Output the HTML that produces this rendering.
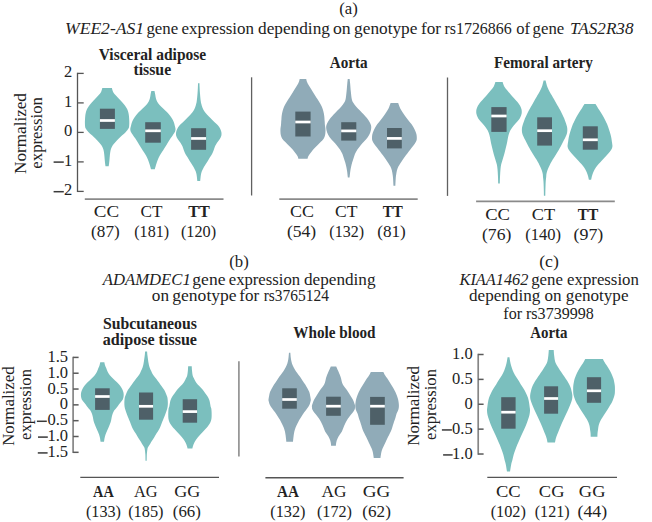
<!DOCTYPE html>
<html><head><meta charset="utf-8"><style>
html,body{margin:0;padding:0;background:#fff;}
svg{display:block;}
text{font-family:"Liberation Serif",serif;fill:#222222;}
</style></head><body>
<svg width="652" height="522" viewBox="0 0 652 522">
<rect width="652" height="522" fill="#fff"/>
<path d="M102.30 88.00 L111.90 88.00 C112.10 88.65 112.47 90.68 113.10 91.90 C113.73 93.12 114.72 94.15 115.70 95.30 C116.67 96.45 117.87 97.65 118.95 98.80 C120.03 99.95 121.17 101.05 122.20 102.20 C123.22 103.35 124.27 104.55 125.10 105.70 C125.92 106.85 126.61 107.95 127.15 109.10 C127.69 110.25 128.05 111.45 128.35 112.60 C128.65 113.75 128.81 114.85 128.95 116.00 C129.09 117.15 129.14 118.33 129.20 119.50 C129.26 120.67 129.32 121.85 129.30 123.00 C129.28 124.15 129.24 125.50 129.10 126.40 C128.96 127.30 128.99 127.48 128.45 128.40 C127.91 129.32 126.89 130.75 125.85 131.90 C124.81 133.05 123.42 134.15 122.20 135.30 C120.98 136.45 119.70 137.65 118.55 138.80 C117.40 139.95 116.32 141.05 115.30 142.20 C114.28 143.35 113.17 144.55 112.45 145.70 C111.72 146.85 111.32 147.95 110.95 149.10 C110.57 150.25 110.39 151.45 110.20 152.60 C110.01 153.75 109.92 154.85 109.80 156.00 C109.68 157.15 109.61 158.35 109.50 159.50 C109.39 160.65 109.28 161.78 109.15 162.90 C109.02 164.02 108.77 165.65 108.70 166.20 L105.50 166.20 C105.42 165.65 105.18 164.02 105.05 162.90 C104.92 161.78 104.81 160.65 104.70 159.50 C104.59 158.35 104.52 157.15 104.40 156.00 C104.28 154.85 104.19 153.75 104.00 152.60 C103.81 151.45 103.62 150.25 103.25 149.10 C102.88 147.95 102.47 146.85 101.75 145.70 C101.03 144.55 99.92 143.35 98.90 142.20 C97.88 141.05 96.80 139.95 95.65 138.80 C94.50 137.65 93.22 136.45 92.00 135.30 C90.78 134.15 89.39 133.05 88.35 131.90 C87.31 130.75 86.29 129.32 85.75 128.40 C85.21 127.48 85.24 127.30 85.10 126.40 C84.96 125.50 84.92 124.15 84.90 123.00 C84.88 121.85 84.94 120.67 85.00 119.50 C85.06 118.33 85.11 117.15 85.25 116.00 C85.39 114.85 85.55 113.75 85.85 112.60 C86.15 111.45 86.51 110.25 87.05 109.10 C87.59 107.95 88.27 106.85 89.10 105.70 C89.92 104.55 90.97 103.35 92.00 102.20 C93.03 101.05 94.17 99.95 95.25 98.80 C96.33 97.65 97.53 96.45 98.50 95.30 C99.47 94.15 100.47 93.12 101.10 91.90 C101.73 90.68 102.10 88.65 102.30 88.00 Z" fill="#7bbfbe"/>
<path d="M151.30 91.00 L154.50 91.00 C154.63 91.65 155.07 93.68 155.30 94.90 C155.53 96.12 155.58 97.15 155.90 98.30 C156.22 99.45 156.55 100.65 157.20 101.80 C157.85 102.95 158.76 104.05 159.80 105.20 C160.84 106.35 162.27 107.55 163.45 108.70 C164.63 109.85 165.83 110.95 166.90 112.10 C167.97 113.25 169.00 114.45 169.90 115.60 C170.80 116.75 171.62 117.85 172.30 119.00 C172.98 120.15 173.53 121.35 173.95 122.50 C174.38 123.65 174.59 124.87 174.85 125.90 C175.11 126.93 175.46 127.78 175.50 128.70 C175.54 129.62 175.52 130.37 175.10 131.40 C174.68 132.43 173.70 133.75 172.95 134.90 C172.20 136.05 171.36 137.15 170.60 138.30 C169.84 139.45 169.12 140.65 168.40 141.80 C167.68 142.95 167.02 144.05 166.30 145.20 C165.58 146.35 164.82 147.55 164.10 148.70 C163.38 149.85 162.72 150.95 162.00 152.10 C161.28 153.25 160.45 154.45 159.80 155.60 C159.15 156.75 158.60 157.85 158.10 159.00 C157.60 160.15 157.20 161.35 156.80 162.50 C156.40 163.65 156.03 164.78 155.70 165.90 C155.37 167.02 154.95 168.65 154.80 169.20 L151.00 169.20 C150.85 168.65 150.43 167.02 150.10 165.90 C149.77 164.78 149.40 163.65 149.00 162.50 C148.60 161.35 148.20 160.15 147.70 159.00 C147.20 157.85 146.65 156.75 146.00 155.60 C145.35 154.45 144.52 153.25 143.80 152.10 C143.08 150.95 142.42 149.85 141.70 148.70 C140.98 147.55 140.22 146.35 139.50 145.20 C138.78 144.05 138.12 142.95 137.40 141.80 C136.68 140.65 135.96 139.45 135.20 138.30 C134.44 137.15 133.60 136.05 132.85 134.90 C132.10 133.75 131.12 132.43 130.70 131.40 C130.28 130.37 130.26 129.62 130.30 128.70 C130.34 127.78 130.69 126.93 130.95 125.90 C131.21 124.87 131.43 123.65 131.85 122.50 C132.27 121.35 132.82 120.15 133.50 119.00 C134.18 117.85 135.00 116.75 135.90 115.60 C136.80 114.45 137.83 113.25 138.90 112.10 C139.97 110.95 141.17 109.85 142.35 108.70 C143.53 107.55 144.96 106.35 146.00 105.20 C147.04 104.05 147.95 102.95 148.60 101.80 C149.25 100.65 149.58 99.45 149.90 98.30 C150.22 97.15 150.27 96.12 150.50 94.90 C150.73 93.68 151.17 91.65 151.30 91.00 Z" fill="#7bbfbe"/>
<path d="M198.00 83.30 L199.50 83.30 C199.52 83.90 199.52 85.15 199.60 86.90 C199.68 88.65 199.82 91.50 200.00 93.80 C200.18 96.10 200.47 98.98 200.70 100.70 C200.92 102.42 201.07 102.95 201.35 104.10 C201.63 105.25 201.93 106.45 202.40 107.60 C202.87 108.75 203.39 109.85 204.15 111.00 C204.91 112.15 205.91 113.35 206.95 114.50 C207.99 115.65 209.25 116.75 210.40 117.90 C211.55 119.05 212.57 120.15 213.85 121.40 C215.12 122.65 216.98 124.15 218.05 125.40 C219.12 126.65 219.74 127.75 220.30 128.90 C220.86 130.05 221.23 131.15 221.40 132.30 C221.57 133.45 221.64 134.65 221.35 135.80 C221.06 136.95 220.37 138.05 219.65 139.20 C218.93 140.35 217.80 141.55 217.05 142.70 C216.30 143.85 215.70 144.88 215.15 146.10 C214.60 147.32 214.18 148.85 213.75 150.00 C213.32 151.15 213.07 151.95 212.55 153.00 C212.03 154.05 211.30 155.22 210.65 156.30 C210.00 157.38 209.32 158.42 208.65 159.50 C207.98 160.58 207.30 161.75 206.65 162.80 C206.00 163.85 205.32 164.87 204.75 165.80 C204.18 166.73 203.70 167.45 203.20 168.40 C202.70 169.35 202.12 170.48 201.75 171.50 C201.38 172.52 201.15 173.48 200.95 174.50 C200.75 175.52 200.68 176.50 200.55 177.60 C200.43 178.70 200.26 180.52 200.20 181.10 L197.30 181.10 C197.24 180.52 197.07 178.70 196.95 177.60 C196.82 176.50 196.75 175.52 196.55 174.50 C196.35 173.48 196.12 172.52 195.75 171.50 C195.38 170.48 194.80 169.35 194.30 168.40 C193.80 167.45 193.32 166.73 192.75 165.80 C192.18 164.87 191.50 163.85 190.85 162.80 C190.20 161.75 189.52 160.58 188.85 159.50 C188.18 158.42 187.50 157.38 186.85 156.30 C186.20 155.22 185.47 154.05 184.95 153.00 C184.43 151.95 184.18 151.15 183.75 150.00 C183.32 148.85 182.90 147.32 182.35 146.10 C181.80 144.88 181.20 143.85 180.45 142.70 C179.70 141.55 178.57 140.35 177.85 139.20 C177.13 138.05 176.44 136.95 176.15 135.80 C175.86 134.65 175.93 133.45 176.10 132.30 C176.27 131.15 176.64 130.05 177.20 128.90 C177.76 127.75 178.38 126.65 179.45 125.40 C180.52 124.15 182.38 122.65 183.65 121.40 C184.93 120.15 185.95 119.05 187.10 117.90 C188.25 116.75 189.51 115.65 190.55 114.50 C191.59 113.35 192.59 112.15 193.35 111.00 C194.11 109.85 194.63 108.75 195.10 107.60 C195.57 106.45 195.87 105.25 196.15 104.10 C196.43 102.95 196.58 102.42 196.80 100.70 C197.03 98.98 197.32 96.10 197.50 93.80 C197.68 91.50 197.82 88.65 197.90 86.90 C197.98 85.15 197.98 83.90 198.00 83.30 Z" fill="#7bbfbe"/>
<path d="M299.70 78.90 L306.20 78.90 C306.34 79.40 306.62 80.83 307.05 81.90 C307.48 82.97 308.10 84.15 308.75 85.30 C309.40 86.45 310.23 87.65 310.95 88.80 C311.67 89.95 312.33 91.05 313.05 92.20 C313.77 93.35 314.52 94.55 315.25 95.70 C315.98 96.85 316.68 97.95 317.40 99.10 C318.12 100.25 318.87 101.45 319.55 102.60 C320.23 103.75 320.95 104.85 321.50 106.00 C322.05 107.15 322.47 108.35 322.85 109.50 C323.22 110.65 323.51 111.75 323.75 112.90 C323.99 114.05 324.18 115.32 324.30 116.40 C324.43 117.48 324.43 118.57 324.50 119.40 C324.57 120.23 324.63 120.48 324.70 121.40 C324.77 122.32 324.78 123.75 324.90 124.90 C325.02 126.05 325.31 127.15 325.40 128.30 C325.49 129.45 325.51 130.65 325.45 131.80 C325.39 132.95 325.35 134.05 325.05 135.20 C324.75 136.35 324.39 137.55 323.65 138.70 C322.91 139.85 321.67 140.95 320.60 142.10 C319.52 143.25 318.35 144.45 317.20 145.60 C316.05 146.75 314.74 147.85 313.70 149.00 C312.66 150.15 311.82 151.35 310.95 152.50 C310.07 153.65 309.02 154.87 308.45 155.90 C307.88 156.93 307.70 158.23 307.55 158.70 L298.35 158.70 C298.20 158.23 298.02 156.93 297.45 155.90 C296.88 154.87 295.82 153.65 294.95 152.50 C294.07 151.35 293.24 150.15 292.20 149.00 C291.16 147.85 289.85 146.75 288.70 145.60 C287.55 144.45 286.38 143.25 285.30 142.10 C284.23 140.95 282.99 139.85 282.25 138.70 C281.51 137.55 281.15 136.35 280.85 135.20 C280.55 134.05 280.51 132.95 280.45 131.80 C280.39 130.65 280.41 129.45 280.50 128.30 C280.59 127.15 280.88 126.05 281.00 124.90 C281.12 123.75 281.13 122.32 281.20 121.40 C281.27 120.48 281.33 120.23 281.40 119.40 C281.47 118.57 281.47 117.48 281.60 116.40 C281.72 115.32 281.91 114.05 282.15 112.90 C282.39 111.75 282.68 110.65 283.05 109.50 C283.43 108.35 283.85 107.15 284.40 106.00 C284.95 104.85 285.67 103.75 286.35 102.60 C287.03 101.45 287.78 100.25 288.50 99.10 C289.22 97.95 289.92 96.85 290.65 95.70 C291.38 94.55 292.13 93.35 292.85 92.20 C293.57 91.05 294.23 89.95 294.95 88.80 C295.67 87.65 296.50 86.45 297.15 85.30 C297.80 84.15 298.42 82.97 298.85 81.90 C299.27 80.83 299.56 79.40 299.70 78.90 Z" fill="#90abb8"/>
<path d="M347.75 78.90 L349.65 78.90 C349.73 79.70 349.96 81.63 350.15 83.70 C350.34 85.77 350.53 88.75 350.80 91.30 C351.07 93.85 351.33 97.08 351.75 99.00 C352.17 100.92 352.55 101.52 353.30 102.80 C354.05 104.08 355.14 105.42 356.25 106.70 C357.36 107.98 358.73 109.23 359.95 110.50 C361.17 111.77 362.39 113.03 363.55 114.30 C364.71 115.57 365.90 116.82 366.90 118.10 C367.90 119.38 368.87 120.80 369.55 122.00 C370.23 123.20 370.73 124.25 371.00 125.30 C371.27 126.35 371.32 127.08 371.20 128.30 C371.07 129.52 370.80 131.17 370.25 132.60 C369.70 134.03 368.90 135.47 367.90 136.90 C366.90 138.33 365.48 139.78 364.25 141.20 C363.02 142.62 361.67 143.98 360.50 145.40 C359.33 146.82 358.18 148.27 357.25 149.70 C356.32 151.13 355.57 152.57 354.95 154.00 C354.33 155.43 354.02 156.87 353.55 158.30 C353.08 159.73 352.57 161.17 352.15 162.60 C351.73 164.03 351.36 165.47 351.05 166.90 C350.74 168.33 350.55 169.42 350.30 171.20 C350.05 172.98 349.68 176.53 349.55 177.60 L347.85 177.60 C347.72 176.53 347.35 172.98 347.10 171.20 C346.85 169.42 346.66 168.33 346.35 166.90 C346.04 165.47 345.67 164.03 345.25 162.60 C344.83 161.17 344.32 159.73 343.85 158.30 C343.38 156.87 343.07 155.43 342.45 154.00 C341.83 152.57 341.07 151.13 340.15 149.70 C339.22 148.27 338.07 146.82 336.90 145.40 C335.73 143.98 334.38 142.62 333.15 141.20 C331.92 139.78 330.50 138.33 329.50 136.90 C328.50 135.47 327.70 134.03 327.15 132.60 C326.60 131.17 326.32 129.52 326.20 128.30 C326.07 127.08 326.12 126.35 326.40 125.30 C326.67 124.25 327.17 123.20 327.85 122.00 C328.53 120.80 329.50 119.38 330.50 118.10 C331.50 116.82 332.69 115.57 333.85 114.30 C335.01 113.03 336.23 111.77 337.45 110.50 C338.67 109.23 340.04 107.98 341.15 106.70 C342.26 105.42 343.35 104.08 344.10 102.80 C344.85 101.52 345.23 100.92 345.65 99.00 C346.07 97.08 346.33 93.85 346.60 91.30 C346.87 88.75 347.06 85.77 347.25 83.70 C347.44 81.63 347.67 79.70 347.75 78.90 Z" fill="#90abb8"/>
<path d="M390.60 103.00 L398.20 103.00 C398.43 103.65 399.08 105.68 399.60 106.90 C400.12 108.12 400.64 109.15 401.30 110.30 C401.96 111.45 402.77 112.65 403.55 113.80 C404.33 114.95 405.14 116.05 406.00 117.20 C406.86 118.35 407.80 119.55 408.70 120.70 C409.60 121.85 410.58 122.95 411.40 124.10 C412.22 125.25 412.95 126.45 413.60 127.60 C414.25 128.75 414.82 129.85 415.30 131.00 C415.78 132.15 416.25 133.35 416.50 134.50 C416.75 135.65 416.80 136.90 416.80 137.90 C416.80 138.90 416.84 139.52 416.50 140.50 C416.16 141.48 415.56 142.60 414.75 143.80 C413.94 145.00 412.65 146.42 411.65 147.70 C410.65 148.98 409.71 150.23 408.75 151.50 C407.79 152.77 406.85 154.02 405.90 155.30 C404.95 156.58 403.94 157.92 403.05 159.20 C402.16 160.48 401.35 161.73 400.55 163.00 C399.75 164.27 398.87 165.52 398.25 166.80 C397.63 168.08 397.19 169.42 396.85 170.70 C396.51 171.98 396.38 173.23 396.20 174.50 C396.02 175.77 395.89 176.42 395.75 178.30 C395.61 180.18 395.42 184.55 395.35 185.80 L393.45 185.80 C393.38 184.55 393.19 180.18 393.05 178.30 C392.91 176.42 392.78 175.77 392.60 174.50 C392.42 173.23 392.29 171.98 391.95 170.70 C391.61 169.42 391.17 168.08 390.55 166.80 C389.93 165.52 389.05 164.27 388.25 163.00 C387.45 161.73 386.64 160.48 385.75 159.20 C384.86 157.92 383.85 156.58 382.90 155.30 C381.95 154.02 381.01 152.77 380.05 151.50 C379.09 150.23 378.15 148.98 377.15 147.70 C376.15 146.42 374.86 145.00 374.05 143.80 C373.24 142.60 372.64 141.48 372.30 140.50 C371.96 139.52 372.00 138.90 372.00 137.90 C372.00 136.90 372.05 135.65 372.30 134.50 C372.55 133.35 373.02 132.15 373.50 131.00 C373.98 129.85 374.55 128.75 375.20 127.60 C375.85 126.45 376.58 125.25 377.40 124.10 C378.22 122.95 379.20 121.85 380.10 120.70 C381.00 119.55 381.94 118.35 382.80 117.20 C383.66 116.05 384.47 114.95 385.25 113.80 C386.03 112.65 386.84 111.45 387.50 110.30 C388.16 109.15 388.68 108.12 389.20 106.90 C389.72 105.68 390.37 103.65 390.60 103.00 Z" fill="#90abb8"/>
<path d="M495.40 82.00 L502.60 82.00 C502.88 82.75 503.49 85.12 504.25 86.50 C505.01 87.88 506.11 89.02 507.15 90.30 C508.19 91.58 509.38 92.92 510.50 94.20 C511.62 95.48 512.73 96.73 513.85 98.00 C514.98 99.27 516.21 100.52 517.25 101.80 C518.29 103.08 519.38 104.42 520.10 105.70 C520.82 106.98 521.29 108.22 521.55 109.50 C521.81 110.78 521.85 112.12 521.65 113.40 C521.45 114.68 520.86 116.10 520.35 117.20 C519.84 118.30 519.41 118.97 518.60 120.00 C517.79 121.03 516.50 122.25 515.50 123.40 C514.50 124.55 513.45 125.75 512.60 126.90 C511.75 128.05 511.01 129.15 510.40 130.30 C509.79 131.45 509.34 132.65 508.95 133.80 C508.56 134.95 508.31 136.05 508.05 137.20 C507.79 138.35 507.62 139.55 507.40 140.70 C507.18 141.85 507.00 142.95 506.75 144.10 C506.50 145.25 506.18 146.45 505.90 147.60 C505.62 148.75 505.34 149.85 505.05 151.00 C504.76 152.15 504.47 153.35 504.15 154.50 C503.82 155.65 503.45 156.75 503.10 157.90 C502.75 159.05 502.38 160.32 502.05 161.40 C501.73 162.48 501.41 163.13 501.15 164.40 C500.89 165.67 500.68 167.08 500.50 169.00 C500.32 170.92 500.17 173.47 500.05 175.90 C499.93 178.33 499.84 182.32 499.80 183.60 L498.20 183.60 C498.16 182.32 498.07 178.33 497.95 175.90 C497.83 173.47 497.68 170.92 497.50 169.00 C497.32 167.08 497.11 165.67 496.85 164.40 C496.59 163.13 496.27 162.48 495.95 161.40 C495.62 160.32 495.25 159.05 494.90 157.90 C494.55 156.75 494.18 155.65 493.85 154.50 C493.53 153.35 493.24 152.15 492.95 151.00 C492.66 149.85 492.38 148.75 492.10 147.60 C491.82 146.45 491.50 145.25 491.25 144.10 C491.00 142.95 490.82 141.85 490.60 140.70 C490.38 139.55 490.21 138.35 489.95 137.20 C489.69 136.05 489.44 134.95 489.05 133.80 C488.66 132.65 488.21 131.45 487.60 130.30 C486.99 129.15 486.25 128.05 485.40 126.90 C484.55 125.75 483.50 124.55 482.50 123.40 C481.50 122.25 480.21 121.03 479.40 120.00 C478.59 118.97 478.16 118.30 477.65 117.20 C477.14 116.10 476.55 114.68 476.35 113.40 C476.15 112.12 476.19 110.78 476.45 109.50 C476.71 108.22 477.18 106.98 477.90 105.70 C478.62 104.42 479.71 103.08 480.75 101.80 C481.79 100.52 483.02 99.27 484.15 98.00 C485.27 96.73 486.38 95.48 487.50 94.20 C488.62 92.92 489.81 91.58 490.85 90.30 C491.89 89.02 492.99 87.88 493.75 86.50 C494.51 85.12 495.12 82.75 495.40 82.00 Z" fill="#7bbfbe"/>
<path d="M543.60 80.40 L545.60 80.40 C545.73 80.95 546.07 82.50 546.40 83.70 C546.73 84.90 547.08 86.32 547.60 87.60 C548.12 88.88 548.81 90.13 549.50 91.40 C550.19 92.67 551.02 93.92 551.75 95.20 C552.48 96.48 553.17 97.82 553.90 99.10 C554.62 100.38 555.37 101.63 556.10 102.90 C556.83 104.17 557.58 105.42 558.30 106.70 C559.02 107.98 559.73 109.32 560.40 110.60 C561.07 111.88 561.73 113.13 562.35 114.40 C562.98 115.67 563.62 116.92 564.15 118.20 C564.67 119.48 565.08 120.88 565.50 122.10 C565.92 123.32 566.35 124.38 566.65 125.50 C566.95 126.62 567.23 127.60 567.30 128.80 C567.38 130.00 567.36 131.42 567.10 132.70 C566.84 133.98 566.29 135.23 565.75 136.50 C565.21 137.77 564.50 139.02 563.85 140.30 C563.20 141.58 562.52 142.92 561.85 144.20 C561.18 145.48 560.50 146.73 559.80 148.00 C559.10 149.27 558.42 150.52 557.65 151.80 C556.88 153.08 556.02 154.42 555.20 155.70 C554.38 156.98 553.52 158.23 552.75 159.50 C551.98 160.77 551.26 162.03 550.60 163.30 C549.94 164.57 549.37 165.82 548.80 167.10 C548.23 168.38 547.60 169.80 547.20 171.00 C546.80 172.20 546.57 173.28 546.40 174.30 C546.23 175.32 546.31 175.97 546.20 177.10 C546.09 178.23 545.87 179.55 545.75 181.10 C545.63 182.65 545.57 184.62 545.50 186.40 C545.43 188.18 545.38 190.23 545.35 191.80 C545.32 193.37 545.31 195.13 545.30 195.80 L543.90 195.80 C543.89 195.13 543.88 193.37 543.85 191.80 C543.82 190.23 543.77 188.18 543.70 186.40 C543.63 184.62 543.57 182.65 543.45 181.10 C543.33 179.55 543.11 178.23 543.00 177.10 C542.89 175.97 542.97 175.32 542.80 174.30 C542.63 173.28 542.40 172.20 542.00 171.00 C541.60 169.80 540.97 168.38 540.40 167.10 C539.83 165.82 539.26 164.57 538.60 163.30 C537.94 162.03 537.22 160.77 536.45 159.50 C535.68 158.23 534.82 156.98 534.00 155.70 C533.18 154.42 532.32 153.08 531.55 151.80 C530.78 150.52 530.10 149.27 529.40 148.00 C528.70 146.73 528.02 145.48 527.35 144.20 C526.68 142.92 526.00 141.58 525.35 140.30 C524.70 139.02 523.99 137.77 523.45 136.50 C522.91 135.23 522.36 133.98 522.10 132.70 C521.84 131.42 521.82 130.00 521.90 128.80 C521.98 127.60 522.25 126.62 522.55 125.50 C522.85 124.38 523.28 123.32 523.70 122.10 C524.12 120.88 524.53 119.48 525.05 118.20 C525.58 116.92 526.23 115.67 526.85 114.40 C527.48 113.13 528.13 111.88 528.80 110.60 C529.48 109.32 530.18 107.98 530.90 106.70 C531.62 105.42 532.37 104.17 533.10 102.90 C533.83 101.63 534.58 100.38 535.30 99.10 C536.03 97.82 536.72 96.48 537.45 95.20 C538.18 93.92 539.01 92.67 539.70 91.40 C540.39 90.13 541.08 88.88 541.60 87.60 C542.12 86.32 542.47 84.90 542.80 83.70 C543.13 82.50 543.47 80.95 543.60 80.40 Z" fill="#7bbfbe"/>
<path d="M584.50 104.10 L595.50 104.10 C595.81 104.57 596.69 105.87 597.35 106.90 C598.01 107.93 598.73 109.15 599.45 110.30 C600.17 111.45 600.94 112.65 601.65 113.80 C602.36 114.95 603.07 116.05 603.70 117.20 C604.33 118.35 604.89 119.55 605.45 120.70 C606.01 121.85 606.57 122.95 607.05 124.10 C607.53 125.25 607.94 126.45 608.35 127.60 C608.76 128.75 609.13 129.85 609.50 131.00 C609.87 132.15 610.24 133.35 610.55 134.50 C610.86 135.65 611.13 136.75 611.35 137.90 C611.57 139.05 611.69 140.32 611.85 141.40 C612.01 142.48 612.22 143.48 612.30 144.40 C612.38 145.32 612.58 145.92 612.35 146.90 C612.12 147.88 611.61 149.15 610.90 150.30 C610.19 151.45 609.10 152.65 608.10 153.80 C607.10 154.95 605.98 156.05 604.90 157.20 C603.82 158.35 602.70 159.55 601.65 160.70 C600.60 161.85 599.57 162.95 598.60 164.10 C597.63 165.25 596.64 166.45 595.85 167.60 C595.06 168.75 594.42 169.85 593.85 171.00 C593.28 172.15 592.84 173.35 592.45 174.50 C592.06 175.65 591.73 177.02 591.50 177.90 C591.27 178.78 591.17 179.48 591.10 179.80 L588.90 179.80 C588.83 179.48 588.73 178.78 588.50 177.90 C588.27 177.02 587.94 175.65 587.55 174.50 C587.16 173.35 586.72 172.15 586.15 171.00 C585.58 169.85 584.94 168.75 584.15 167.60 C583.36 166.45 582.37 165.25 581.40 164.10 C580.43 162.95 579.40 161.85 578.35 160.70 C577.30 159.55 576.18 158.35 575.10 157.20 C574.02 156.05 572.90 154.95 571.90 153.80 C570.90 152.65 569.81 151.45 569.10 150.30 C568.39 149.15 567.88 147.88 567.65 146.90 C567.42 145.92 567.62 145.32 567.70 144.40 C567.78 143.48 567.99 142.48 568.15 141.40 C568.31 140.32 568.43 139.05 568.65 137.90 C568.87 136.75 569.14 135.65 569.45 134.50 C569.76 133.35 570.13 132.15 570.50 131.00 C570.87 129.85 571.24 128.75 571.65 127.60 C572.06 126.45 572.47 125.25 572.95 124.10 C573.43 122.95 573.99 121.85 574.55 120.70 C575.11 119.55 575.67 118.35 576.30 117.20 C576.93 116.05 577.64 114.95 578.35 113.80 C579.06 112.65 579.83 111.45 580.55 110.30 C581.27 109.15 581.99 107.93 582.65 106.90 C583.31 105.87 584.19 104.57 584.50 104.10 Z" fill="#7bbfbe"/>
<path d="M100.25 362.30 L104.35 362.30 C104.45 362.73 104.62 363.90 104.95 364.90 C105.28 365.90 105.85 367.15 106.30 368.30 C106.75 369.45 107.06 370.65 107.65 371.80 C108.24 372.95 108.92 374.05 109.85 375.20 C110.78 376.35 112.10 377.55 113.25 378.70 C114.40 379.85 115.63 380.95 116.75 382.10 C117.87 383.25 119.05 384.45 119.95 385.60 C120.85 386.75 121.57 387.85 122.15 389.00 C122.73 390.15 123.20 391.35 123.45 392.50 C123.70 393.65 123.76 394.75 123.65 395.90 C123.54 397.05 123.26 398.38 122.80 399.40 C122.34 400.42 121.55 401.15 120.90 402.00 C120.25 402.85 119.53 403.68 118.90 404.50 C118.28 405.32 117.91 405.93 117.15 406.90 C116.39 407.87 115.10 409.15 114.35 410.30 C113.60 411.45 113.09 412.65 112.65 413.80 C112.21 414.95 111.97 416.05 111.70 417.20 C111.43 418.35 111.34 419.55 111.05 420.70 C110.76 421.85 110.37 422.95 109.95 424.10 C109.53 425.25 109.04 426.45 108.55 427.60 C108.06 428.75 107.50 429.85 107.00 431.00 C106.50 432.15 105.95 433.35 105.55 434.50 C105.15 435.65 104.86 436.68 104.60 437.90 C104.34 439.12 104.10 441.15 104.00 441.80 L100.60 441.80 C100.50 441.15 100.26 439.12 100.00 437.90 C99.74 436.68 99.45 435.65 99.05 434.50 C98.65 433.35 98.10 432.15 97.60 431.00 C97.10 429.85 96.54 428.75 96.05 427.60 C95.56 426.45 95.07 425.25 94.65 424.10 C94.23 422.95 93.84 421.85 93.55 420.70 C93.26 419.55 93.17 418.35 92.90 417.20 C92.63 416.05 92.39 414.95 91.95 413.80 C91.51 412.65 91.00 411.45 90.25 410.30 C89.50 409.15 88.21 407.87 87.45 406.90 C86.69 405.93 86.32 405.32 85.70 404.50 C85.07 403.68 84.35 402.85 83.70 402.00 C83.05 401.15 82.26 400.42 81.80 399.40 C81.34 398.38 81.06 397.05 80.95 395.90 C80.84 394.75 80.90 393.65 81.15 392.50 C81.40 391.35 81.87 390.15 82.45 389.00 C83.03 387.85 83.75 386.75 84.65 385.60 C85.55 384.45 86.73 383.25 87.85 382.10 C88.97 380.95 90.20 379.85 91.35 378.70 C92.50 377.55 93.82 376.35 94.75 375.20 C95.68 374.05 96.36 372.95 96.95 371.80 C97.54 370.65 97.85 369.45 98.30 368.30 C98.75 367.15 99.32 365.90 99.65 364.90 C99.97 363.90 100.15 362.73 100.25 362.30 Z" fill="#7bbfbe"/>
<path d="M145.10 351.40 L147.10 351.40 C147.17 352.12 147.25 353.72 147.50 355.70 C147.75 357.68 148.26 361.38 148.60 363.30 C148.94 365.22 149.12 365.92 149.55 367.20 C149.98 368.48 150.62 369.73 151.20 371.00 C151.78 372.27 152.22 373.52 153.05 374.80 C153.88 376.08 155.21 377.42 156.20 378.70 C157.19 379.98 158.09 381.23 159.00 382.50 C159.91 383.77 160.77 385.03 161.65 386.30 C162.53 387.57 163.56 388.82 164.30 390.10 C165.04 391.38 165.59 392.80 166.10 394.00 C166.61 395.20 167.08 396.30 167.35 397.30 C167.62 398.30 167.62 399.10 167.70 400.00 C167.78 400.90 167.86 401.62 167.85 402.70 C167.84 403.78 167.84 405.23 167.65 406.50 C167.46 407.77 167.09 409.02 166.70 410.30 C166.31 411.58 165.78 412.92 165.30 414.20 C164.82 415.48 164.31 416.73 163.80 418.00 C163.29 419.27 162.76 420.52 162.25 421.80 C161.74 423.08 161.29 424.42 160.75 425.70 C160.21 426.98 159.69 428.23 159.00 429.50 C158.31 430.77 157.38 432.00 156.60 433.30 C155.82 434.60 154.98 436.20 154.30 437.30 C153.62 438.40 153.07 439.05 152.50 439.90 C151.93 440.75 151.38 441.58 150.90 442.40 C150.42 443.22 150.08 443.98 149.60 444.80 C149.12 445.62 148.38 446.48 148.00 447.30 C147.62 448.12 147.54 448.48 147.35 449.70 C147.16 450.92 146.96 452.75 146.85 454.60 C146.74 456.45 146.72 459.77 146.70 460.80 L145.50 460.80 C145.47 459.77 145.46 456.45 145.35 454.60 C145.24 452.75 145.04 450.92 144.85 449.70 C144.66 448.48 144.57 448.12 144.20 447.30 C143.82 446.48 143.08 445.62 142.60 444.80 C142.12 443.98 141.78 443.22 141.30 442.40 C140.82 441.58 140.27 440.75 139.70 439.90 C139.13 439.05 138.58 438.40 137.90 437.30 C137.22 436.20 136.38 434.60 135.60 433.30 C134.82 432.00 133.89 430.77 133.20 429.50 C132.51 428.23 131.99 426.98 131.45 425.70 C130.91 424.42 130.46 423.08 129.95 421.80 C129.44 420.52 128.91 419.27 128.40 418.00 C127.89 416.73 127.38 415.48 126.90 414.20 C126.42 412.92 125.89 411.58 125.50 410.30 C125.11 409.02 124.74 407.77 124.55 406.50 C124.36 405.23 124.36 403.78 124.35 402.70 C124.34 401.62 124.42 400.90 124.50 400.00 C124.58 399.10 124.58 398.30 124.85 397.30 C125.12 396.30 125.59 395.20 126.10 394.00 C126.61 392.80 127.16 391.38 127.90 390.10 C128.64 388.82 129.67 387.57 130.55 386.30 C131.43 385.03 132.29 383.77 133.20 382.50 C134.11 381.23 135.01 379.98 136.00 378.70 C136.99 377.42 138.32 376.08 139.15 374.80 C139.98 373.52 140.42 372.27 141.00 371.00 C141.58 369.73 142.22 368.48 142.65 367.20 C143.08 365.92 143.26 365.22 143.60 363.30 C143.94 361.38 144.45 357.68 144.70 355.70 C144.95 353.72 145.03 352.12 145.10 351.40 Z" fill="#7bbfbe"/>
<path d="M188.15 366.30 L191.75 366.30 C191.79 367.02 191.83 369.02 192.00 370.60 C192.17 372.18 192.36 374.37 192.75 375.80 C193.14 377.23 193.76 378.05 194.35 379.20 C194.94 380.35 195.48 381.55 196.30 382.70 C197.12 383.85 198.21 384.95 199.25 386.10 C200.29 387.25 201.58 388.45 202.55 389.60 C203.52 390.75 204.21 391.85 205.05 393.00 C205.89 394.15 206.89 395.35 207.60 396.50 C208.31 397.65 208.88 398.75 209.30 399.90 C209.72 401.05 209.88 402.32 210.10 403.40 C210.32 404.48 210.40 405.57 210.60 406.40 C210.80 407.23 211.13 407.48 211.30 408.40 C211.47 409.32 211.54 410.75 211.60 411.90 C211.66 413.05 211.67 414.15 211.65 415.30 C211.62 416.45 211.65 417.65 211.45 418.80 C211.25 419.95 210.98 421.05 210.45 422.20 C209.92 423.35 209.08 424.55 208.25 425.70 C207.42 426.85 206.45 427.95 205.45 429.10 C204.45 430.25 203.32 431.45 202.25 432.60 C201.18 433.75 200.01 434.85 199.00 436.00 C197.99 437.15 197.01 438.35 196.20 439.50 C195.39 440.65 194.71 441.75 194.15 442.90 C193.59 444.05 193.15 445.47 192.85 446.40 C192.55 447.33 192.43 448.15 192.35 448.50 L187.55 448.50 C187.47 448.15 187.35 447.33 187.05 446.40 C186.75 445.47 186.31 444.05 185.75 442.90 C185.19 441.75 184.51 440.65 183.70 439.50 C182.89 438.35 181.91 437.15 180.90 436.00 C179.89 434.85 178.72 433.75 177.65 432.60 C176.57 431.45 175.45 430.25 174.45 429.10 C173.45 427.95 172.48 426.85 171.65 425.70 C170.82 424.55 169.98 423.35 169.45 422.20 C168.92 421.05 168.65 419.95 168.45 418.80 C168.25 417.65 168.28 416.45 168.25 415.30 C168.22 414.15 168.24 413.05 168.30 411.90 C168.36 410.75 168.43 409.32 168.60 408.40 C168.77 407.48 169.10 407.23 169.30 406.40 C169.50 405.57 169.58 404.48 169.80 403.40 C170.02 402.32 170.18 401.05 170.60 399.90 C171.02 398.75 171.59 397.65 172.30 396.50 C173.01 395.35 174.01 394.15 174.85 393.00 C175.69 391.85 176.38 390.75 177.35 389.60 C178.32 388.45 179.61 387.25 180.65 386.10 C181.69 384.95 182.78 383.85 183.60 382.70 C184.42 381.55 184.96 380.35 185.55 379.20 C186.14 378.05 186.76 377.23 187.15 375.80 C187.54 374.37 187.73 372.18 187.90 370.60 C188.07 369.02 188.11 367.02 188.15 366.30 Z" fill="#7bbfbe"/>
<path d="M288.95 352.70 L290.35 352.70 C290.42 353.53 290.62 356.23 290.80 357.70 C290.98 359.17 291.14 360.23 291.45 361.50 C291.76 362.77 292.11 364.02 292.65 365.30 C293.19 366.58 293.94 367.92 294.70 369.20 C295.46 370.48 296.31 371.73 297.20 373.00 C298.09 374.27 299.15 375.52 300.05 376.80 C300.95 378.08 301.73 379.42 302.60 380.70 C303.47 381.98 304.45 383.23 305.25 384.50 C306.05 385.77 306.72 387.03 307.40 388.30 C308.07 389.57 308.83 390.82 309.30 392.10 C309.77 393.38 309.96 394.80 310.20 396.00 C310.44 397.20 310.67 398.50 310.75 399.30 C310.83 400.10 310.91 399.90 310.70 400.80 C310.49 401.70 310.10 403.42 309.50 404.70 C308.90 405.98 307.97 407.23 307.10 408.50 C306.22 409.77 305.16 411.02 304.25 412.30 C303.34 413.58 302.48 414.92 301.65 416.20 C300.82 417.48 299.97 418.73 299.25 420.00 C298.53 421.27 297.97 422.52 297.35 423.80 C296.72 425.08 296.00 426.42 295.50 427.70 C295.00 428.98 294.65 430.23 294.35 431.50 C294.05 432.77 293.88 434.03 293.70 435.30 C293.52 436.57 293.37 438.02 293.25 439.10 C293.13 440.18 293.04 441.35 293.00 441.80 L286.30 441.80 C286.26 441.35 286.17 440.18 286.05 439.10 C285.93 438.02 285.78 436.57 285.60 435.30 C285.42 434.03 285.25 432.77 284.95 431.50 C284.65 430.23 284.30 428.98 283.80 427.70 C283.30 426.42 282.57 425.08 281.95 423.80 C281.32 422.52 280.77 421.27 280.05 420.00 C279.33 418.73 278.48 417.48 277.65 416.20 C276.82 414.92 275.96 413.58 275.05 412.30 C274.14 411.02 273.07 409.77 272.20 408.50 C271.32 407.23 270.40 405.98 269.80 404.70 C269.20 403.42 268.81 401.70 268.60 400.80 C268.39 399.90 268.47 400.10 268.55 399.30 C268.63 398.50 268.86 397.20 269.10 396.00 C269.34 394.80 269.53 393.38 270.00 392.10 C270.47 390.82 271.22 389.57 271.90 388.30 C272.57 387.03 273.25 385.77 274.05 384.50 C274.85 383.23 275.83 381.98 276.70 380.70 C277.57 379.42 278.35 378.08 279.25 376.80 C280.15 375.52 281.21 374.27 282.10 373.00 C282.99 371.73 283.84 370.48 284.60 369.20 C285.36 367.92 286.11 366.58 286.65 365.30 C287.19 364.02 287.54 362.77 287.85 361.50 C288.16 360.23 288.32 359.17 288.50 357.70 C288.68 356.23 288.88 353.53 288.95 352.70 Z" fill="#90abb8"/>
<path d="M330.80 366.50 L336.20 366.50 C336.50 367.18 337.33 369.05 338.00 370.60 C338.67 372.15 339.66 374.37 340.20 375.80 C340.74 377.23 340.93 378.05 341.25 379.20 C341.57 380.35 341.68 381.55 342.10 382.70 C342.53 383.85 343.07 384.95 343.80 386.10 C344.53 387.25 345.67 388.45 346.50 389.60 C347.33 390.75 348.06 391.85 348.80 393.00 C349.54 394.15 350.24 395.35 350.95 396.50 C351.66 397.65 352.48 398.75 353.05 399.90 C353.62 401.05 354.06 402.43 354.40 403.40 C354.74 404.37 355.00 405.02 355.10 405.70 C355.20 406.38 355.07 406.88 355.00 407.50 C354.93 408.12 355.09 408.48 354.65 409.40 C354.21 410.32 353.23 411.78 352.35 413.00 C351.47 414.22 350.28 415.47 349.35 416.70 C348.43 417.93 347.53 419.17 346.80 420.40 C346.07 421.63 345.57 422.88 345.00 424.10 C344.43 425.32 343.92 426.48 343.40 427.70 C342.88 428.92 342.55 430.17 341.90 431.40 C341.25 432.63 340.24 433.87 339.50 435.10 C338.76 436.33 337.99 437.58 337.45 438.80 C336.91 440.02 336.51 441.25 336.25 442.40 C335.99 443.55 335.96 445.15 335.90 445.70 L331.10 445.70 C331.04 445.15 331.01 443.55 330.75 442.40 C330.49 441.25 330.09 440.02 329.55 438.80 C329.01 437.58 328.24 436.33 327.50 435.10 C326.76 433.87 325.75 432.63 325.10 431.40 C324.45 430.17 324.12 428.92 323.60 427.70 C323.08 426.48 322.57 425.32 322.00 424.10 C321.43 422.88 320.93 421.63 320.20 420.40 C319.47 419.17 318.57 417.93 317.65 416.70 C316.72 415.47 315.53 414.22 314.65 413.00 C313.77 411.78 312.79 410.32 312.35 409.40 C311.91 408.48 312.07 408.12 312.00 407.50 C311.93 406.88 311.80 406.38 311.90 405.70 C312.00 405.02 312.26 404.37 312.60 403.40 C312.94 402.43 313.38 401.05 313.95 399.90 C314.52 398.75 315.34 397.65 316.05 396.50 C316.76 395.35 317.46 394.15 318.20 393.00 C318.94 391.85 319.67 390.75 320.50 389.60 C321.33 388.45 322.47 387.25 323.20 386.10 C323.93 384.95 324.47 383.85 324.90 382.70 C325.32 381.55 325.43 380.35 325.75 379.20 C326.07 378.05 326.26 377.23 326.80 375.80 C327.34 374.37 328.33 372.15 329.00 370.60 C329.67 369.05 330.50 367.18 330.80 366.50 Z" fill="#90abb8"/>
<path d="M370.85 371.90 L383.35 371.90 C383.61 372.40 384.26 373.83 384.90 374.90 C385.54 375.97 386.45 377.15 387.20 378.30 C387.95 379.45 388.68 380.65 389.40 381.80 C390.12 382.95 390.83 384.05 391.55 385.20 C392.27 386.35 393.06 387.55 393.70 388.70 C394.34 389.85 394.88 390.95 395.40 392.10 C395.93 393.25 396.42 394.45 396.85 395.60 C397.28 396.75 397.70 397.85 398.00 399.00 C398.30 400.15 398.50 401.35 398.65 402.50 C398.80 403.65 398.94 404.75 398.90 405.90 C398.86 407.05 398.79 408.08 398.40 409.40 C398.01 410.72 397.04 412.42 396.55 413.80 C396.06 415.18 395.86 416.42 395.45 417.70 C395.04 418.98 394.53 420.23 394.10 421.50 C393.68 422.77 393.30 424.02 392.90 425.30 C392.50 426.58 392.18 427.92 391.70 429.20 C391.22 430.48 390.60 431.73 390.00 433.00 C389.40 434.27 388.73 435.52 388.10 436.80 C387.47 438.08 386.81 439.42 386.20 440.70 C385.59 441.98 385.04 443.23 384.45 444.50 C383.86 445.77 383.16 447.03 382.65 448.30 C382.14 449.57 381.77 450.50 381.40 452.10 C381.03 453.70 380.61 456.93 380.45 457.90 L373.75 457.90 C373.59 456.93 373.17 453.70 372.80 452.10 C372.43 450.50 372.06 449.57 371.55 448.30 C371.04 447.03 370.34 445.77 369.75 444.50 C369.16 443.23 368.61 441.98 368.00 440.70 C367.39 439.42 366.73 438.08 366.10 436.80 C365.47 435.52 364.80 434.27 364.20 433.00 C363.60 431.73 362.98 430.48 362.50 429.20 C362.02 427.92 361.70 426.58 361.30 425.30 C360.90 424.02 360.53 422.77 360.10 421.50 C359.68 420.23 359.16 418.98 358.75 417.70 C358.34 416.42 358.14 415.18 357.65 413.80 C357.16 412.42 356.19 410.72 355.80 409.40 C355.41 408.08 355.34 407.05 355.30 405.90 C355.26 404.75 355.40 403.65 355.55 402.50 C355.70 401.35 355.90 400.15 356.20 399.00 C356.50 397.85 356.92 396.75 357.35 395.60 C357.78 394.45 358.28 393.25 358.80 392.10 C359.32 390.95 359.86 389.85 360.50 388.70 C361.14 387.55 361.93 386.35 362.65 385.20 C363.37 384.05 364.08 382.95 364.80 381.80 C365.52 380.65 366.25 379.45 367.00 378.30 C367.75 377.15 368.66 375.97 369.30 374.90 C369.94 373.83 370.59 372.40 370.85 371.90 Z" fill="#90abb8"/>
<path d="M507.55 357.20 L509.45 357.20 C509.56 357.87 509.82 359.77 510.10 361.20 C510.38 362.63 510.71 364.27 511.15 365.80 C511.59 367.33 512.12 368.87 512.75 370.40 C513.38 371.93 514.09 373.47 514.95 375.00 C515.81 376.53 516.94 378.07 517.90 379.60 C518.86 381.13 519.74 382.67 520.70 384.20 C521.66 385.73 522.74 387.27 523.65 388.80 C524.56 390.33 525.42 391.87 526.15 393.40 C526.88 394.93 527.57 396.47 528.05 398.00 C528.53 399.53 528.77 401.07 529.05 402.60 C529.32 404.13 529.54 405.88 529.70 407.20 C529.86 408.52 530.04 409.20 530.00 410.50 C529.96 411.80 529.80 413.42 529.45 415.00 C529.10 416.58 528.46 418.35 527.90 420.00 C527.34 421.65 526.77 423.25 526.10 424.90 C525.43 426.55 524.66 428.23 523.90 429.90 C523.14 431.57 522.31 433.23 521.55 434.90 C520.79 436.57 520.07 438.25 519.35 439.90 C518.63 441.55 517.92 443.15 517.25 444.80 C516.58 446.45 515.95 448.13 515.35 449.80 C514.75 451.47 514.13 453.13 513.65 454.80 C513.17 456.47 512.87 458.15 512.45 459.80 C512.03 461.45 511.55 462.73 511.15 464.70 C510.75 466.67 510.23 470.45 510.05 471.60 L506.95 471.60 C506.77 470.45 506.25 466.67 505.85 464.70 C505.45 462.73 504.97 461.45 504.55 459.80 C504.13 458.15 503.83 456.47 503.35 454.80 C502.87 453.13 502.25 451.47 501.65 449.80 C501.05 448.13 500.42 446.45 499.75 444.80 C499.08 443.15 498.37 441.55 497.65 439.90 C496.93 438.25 496.21 436.57 495.45 434.90 C494.69 433.23 493.86 431.57 493.10 429.90 C492.34 428.23 491.57 426.55 490.90 424.90 C490.23 423.25 489.66 421.65 489.10 420.00 C488.54 418.35 487.90 416.58 487.55 415.00 C487.20 413.42 487.04 411.80 487.00 410.50 C486.96 409.20 487.14 408.52 487.30 407.20 C487.46 405.88 487.68 404.13 487.95 402.60 C488.22 401.07 488.47 399.53 488.95 398.00 C489.43 396.47 490.12 394.93 490.85 393.40 C491.58 391.87 492.44 390.33 493.35 388.80 C494.26 387.27 495.34 385.73 496.30 384.20 C497.26 382.67 498.14 381.13 499.10 379.60 C500.06 378.07 501.19 376.53 502.05 375.00 C502.91 373.47 503.62 371.93 504.25 370.40 C504.88 368.87 505.41 367.33 505.85 365.80 C506.29 364.27 506.62 362.63 506.90 361.20 C507.18 359.77 507.44 357.87 507.55 357.20 Z" fill="#7bbfbe"/>
<path d="M548.80 350.10 L553.70 350.10 C553.78 351.00 553.90 353.55 554.15 355.50 C554.40 357.45 554.68 360.03 555.20 361.80 C555.73 363.57 556.51 364.68 557.30 366.10 C558.09 367.52 559.03 368.90 559.95 370.30 C560.88 371.70 561.88 373.10 562.85 374.50 C563.82 375.90 564.82 377.30 565.75 378.70 C566.68 380.10 567.68 381.50 568.45 382.90 C569.23 384.30 569.88 385.70 570.40 387.10 C570.92 388.50 571.27 389.93 571.60 391.30 C571.93 392.67 572.26 394.02 572.35 395.30 C572.44 396.58 572.39 397.72 572.15 399.00 C571.91 400.28 571.38 401.67 570.90 403.00 C570.42 404.33 569.86 405.68 569.30 407.00 C568.74 408.32 568.16 409.58 567.55 410.90 C566.94 412.22 566.27 413.57 565.65 414.90 C565.02 416.23 564.42 417.57 563.80 418.90 C563.18 420.23 562.54 421.57 561.95 422.90 C561.36 424.23 560.80 425.57 560.25 426.90 C559.70 428.23 559.17 429.58 558.65 430.90 C558.12 432.22 557.58 433.48 557.10 434.80 C556.62 436.12 556.10 437.50 555.75 438.80 C555.40 440.10 555.12 441.97 555.00 442.60 L547.50 442.60 C547.38 441.97 547.10 440.10 546.75 438.80 C546.40 437.50 545.88 436.12 545.40 434.80 C544.92 433.48 544.38 432.22 543.85 430.90 C543.33 429.58 542.80 428.23 542.25 426.90 C541.70 425.57 541.14 424.23 540.55 422.90 C539.96 421.57 539.32 420.23 538.70 418.90 C538.08 417.57 537.48 416.23 536.85 414.90 C536.23 413.57 535.56 412.22 534.95 410.90 C534.34 409.58 533.76 408.32 533.20 407.00 C532.64 405.68 532.08 404.33 531.60 403.00 C531.12 401.67 530.59 400.28 530.35 399.00 C530.11 397.72 530.06 396.58 530.15 395.30 C530.24 394.02 530.57 392.67 530.90 391.30 C531.23 389.93 531.58 388.50 532.10 387.10 C532.62 385.70 533.27 384.30 534.05 382.90 C534.82 381.50 535.82 380.10 536.75 378.70 C537.68 377.30 538.68 375.90 539.65 374.50 C540.62 373.10 541.62 371.70 542.55 370.30 C543.47 368.90 544.41 367.52 545.20 366.10 C545.99 364.68 546.77 363.57 547.30 361.80 C547.82 360.03 548.10 357.45 548.35 355.50 C548.60 353.55 548.72 351.00 548.80 350.10 Z" fill="#7bbfbe"/>
<path d="M585.25 358.90 L602.85 358.90 C603.12 359.40 603.82 360.83 604.45 361.90 C605.07 362.97 605.87 364.15 606.60 365.30 C607.32 366.45 608.11 367.65 608.80 368.80 C609.49 369.95 610.17 371.05 610.75 372.20 C611.33 373.35 611.83 374.55 612.30 375.70 C612.77 376.85 613.22 377.95 613.55 379.10 C613.88 380.25 614.08 381.45 614.30 382.60 C614.52 383.75 614.74 384.85 614.85 386.00 C614.96 387.15 614.95 388.35 614.95 389.50 C614.95 390.65 614.94 391.90 614.85 392.90 C614.76 393.90 614.63 394.58 614.40 395.50 C614.17 396.42 613.84 397.33 613.45 398.40 C613.06 399.47 612.61 400.75 612.05 401.90 C611.49 403.05 610.77 404.15 610.10 405.30 C609.43 406.45 608.77 407.65 608.05 408.80 C607.33 409.95 606.56 411.05 605.80 412.20 C605.04 413.35 604.23 414.55 603.50 415.70 C602.77 416.85 602.04 417.95 601.40 419.10 C600.76 420.25 600.12 421.45 599.65 422.60 C599.17 423.75 598.82 424.85 598.55 426.00 C598.28 427.15 598.22 428.35 598.05 429.50 C597.88 430.65 597.66 431.68 597.55 432.90 C597.44 434.12 597.42 436.15 597.40 436.80 L590.70 436.80 C590.67 436.15 590.66 434.12 590.55 432.90 C590.44 431.68 590.22 430.65 590.05 429.50 C589.88 428.35 589.82 427.15 589.55 426.00 C589.28 424.85 588.92 423.75 588.45 422.60 C587.97 421.45 587.34 420.25 586.70 419.10 C586.06 417.95 585.33 416.85 584.60 415.70 C583.87 414.55 583.06 413.35 582.30 412.20 C581.54 411.05 580.77 409.95 580.05 408.80 C579.33 407.65 578.67 406.45 578.00 405.30 C577.33 404.15 576.61 403.05 576.05 401.90 C575.49 400.75 575.04 399.47 574.65 398.40 C574.26 397.33 573.93 396.42 573.70 395.50 C573.47 394.58 573.34 393.90 573.25 392.90 C573.16 391.90 573.15 390.65 573.15 389.50 C573.15 388.35 573.14 387.15 573.25 386.00 C573.36 384.85 573.58 383.75 573.80 382.60 C574.02 381.45 574.22 380.25 574.55 379.10 C574.88 377.95 575.33 376.85 575.80 375.70 C576.27 374.55 576.77 373.35 577.35 372.20 C577.93 371.05 578.61 369.95 579.30 368.80 C579.99 367.65 580.77 366.45 581.50 365.30 C582.23 364.15 583.02 362.97 583.65 361.90 C584.27 360.83 584.98 359.40 585.25 358.90 Z" fill="#7bbfbe"/>
<rect x="99.90" y="108.70" width="15.00" height="20.20" fill="#4e6068"/><rect x="99.90" y="119.15" width="15.00" height="2.70" fill="#ffffff"/>
<rect x="145.20" y="122.20" width="15.60" height="20.50" fill="#4e6068"/><rect x="145.20" y="129.45" width="15.60" height="2.70" fill="#ffffff"/>
<rect x="191.10" y="128.20" width="15.00" height="21.60" fill="#4e6068"/><rect x="191.10" y="137.10" width="15.00" height="2.70" fill="#ffffff"/>
<rect x="295.30" y="111.60" width="15.30" height="24.90" fill="#4e6068"/><rect x="295.30" y="120.65" width="15.30" height="2.70" fill="#ffffff"/>
<rect x="341.20" y="122.20" width="15.10" height="18.40" fill="#4e6068"/><rect x="341.20" y="129.55" width="15.10" height="2.70" fill="#ffffff"/>
<rect x="387.00" y="128.00" width="14.80" height="20.40" fill="#4e6068"/><rect x="387.00" y="137.05" width="14.80" height="2.70" fill="#ffffff"/>
<rect x="491.30" y="107.10" width="15.30" height="24.80" fill="#4e6068"/><rect x="491.30" y="114.65" width="15.30" height="2.70" fill="#ffffff"/>
<rect x="537.20" y="117.30" width="14.80" height="28.30" fill="#4e6068"/><rect x="537.20" y="129.35" width="14.80" height="2.70" fill="#ffffff"/>
<rect x="582.80" y="126.30" width="15.00" height="23.40" fill="#4e6068"/><rect x="582.80" y="138.45" width="15.00" height="2.70" fill="#ffffff"/>
<rect x="95.10" y="388.30" width="14.60" height="21.60" fill="#4e6068"/><rect x="95.10" y="395.15" width="14.60" height="2.70" fill="#ffffff"/>
<rect x="139.00" y="392.50" width="14.10" height="27.20" fill="#4e6068"/><rect x="139.00" y="404.95" width="14.10" height="2.70" fill="#ffffff"/>
<rect x="182.70" y="399.20" width="14.40" height="23.50" fill="#4e6068"/><rect x="182.70" y="410.25" width="14.40" height="2.70" fill="#ffffff"/>
<rect x="282.20" y="388.30" width="14.60" height="20.40" fill="#4e6068"/><rect x="282.20" y="398.15" width="14.60" height="2.70" fill="#ffffff"/>
<rect x="326.10" y="396.70" width="14.70" height="19.10" fill="#4e6068"/><rect x="326.10" y="404.85" width="14.70" height="2.70" fill="#ffffff"/>
<rect x="370.10" y="396.90" width="14.70" height="27.90" fill="#4e6068"/><rect x="370.10" y="404.85" width="14.70" height="2.70" fill="#ffffff"/>
<rect x="501.20" y="397.20" width="14.40" height="31.50" fill="#4e6068"/><rect x="501.20" y="410.85" width="14.40" height="2.70" fill="#ffffff"/>
<rect x="544.10" y="386.30" width="14.00" height="27.40" fill="#4e6068"/><rect x="544.10" y="397.15" width="14.00" height="2.70" fill="#ffffff"/>
<rect x="586.90" y="377.20" width="14.20" height="25.60" fill="#4e6068"/><rect x="586.90" y="389.45" width="14.20" height="2.70" fill="#ffffff"/>
<line x1="77.50" y1="72.75" x2="77.50" y2="192.05" stroke="#555555" stroke-width="1.30"/><line x1="77.50" y1="73.40" x2="83.70" y2="73.40" stroke="#555555" stroke-width="1.30"/><line x1="77.50" y1="102.90" x2="83.70" y2="102.90" stroke="#555555" stroke-width="1.30"/><line x1="77.50" y1="132.40" x2="83.70" y2="132.40" stroke="#555555" stroke-width="1.30"/><line x1="77.50" y1="161.90" x2="83.70" y2="161.90" stroke="#555555" stroke-width="1.30"/><line x1="77.50" y1="191.40" x2="83.70" y2="191.40" stroke="#555555" stroke-width="1.30"/>
<line x1="73.10" y1="356.65" x2="73.10" y2="453.07" stroke="#858585" stroke-width="1.70"/><line x1="73.10" y1="357.40" x2="78.60" y2="357.40" stroke="#5a5a5a" stroke-width="1.50"/><line x1="73.10" y1="373.22" x2="78.60" y2="373.22" stroke="#5a5a5a" stroke-width="1.50"/><line x1="73.10" y1="389.04" x2="78.60" y2="389.04" stroke="#5a5a5a" stroke-width="1.50"/><line x1="73.10" y1="404.86" x2="78.60" y2="404.86" stroke="#5a5a5a" stroke-width="1.50"/><line x1="73.10" y1="420.68" x2="78.60" y2="420.68" stroke="#5a5a5a" stroke-width="1.50"/><line x1="73.10" y1="436.50" x2="78.60" y2="436.50" stroke="#5a5a5a" stroke-width="1.50"/><line x1="73.10" y1="452.32" x2="78.60" y2="452.32" stroke="#5a5a5a" stroke-width="1.50"/>
<line x1="478.20" y1="353.75" x2="478.20" y2="454.77" stroke="#858585" stroke-width="1.70"/><line x1="478.20" y1="354.50" x2="483.60" y2="354.50" stroke="#5a5a5a" stroke-width="1.50"/><line x1="478.20" y1="379.38" x2="483.60" y2="379.38" stroke="#5a5a5a" stroke-width="1.50"/><line x1="478.20" y1="404.26" x2="483.60" y2="404.26" stroke="#5a5a5a" stroke-width="1.50"/><line x1="478.20" y1="429.14" x2="483.60" y2="429.14" stroke="#5a5a5a" stroke-width="1.50"/><line x1="478.20" y1="454.02" x2="483.60" y2="454.02" stroke="#5a5a5a" stroke-width="1.50"/>
<line x1="251.60" y1="77.30" x2="251.60" y2="195.50" stroke="#606060" stroke-width="1.30"/>
<line x1="447.50" y1="77.50" x2="447.50" y2="195.90" stroke="#606060" stroke-width="1.30"/>
<line x1="238.90" y1="361.20" x2="238.90" y2="456.60" stroke="#8c8c8c" stroke-width="1.60"/>
<line x1="84.80" y1="199.10" x2="223.50" y2="199.10" stroke="#8a8a8a" stroke-width="1.80"/>
<line x1="279.30" y1="199.10" x2="417.70" y2="199.10" stroke="#8a8a8a" stroke-width="1.80"/>
<line x1="476.10" y1="201.30" x2="614.80" y2="201.30" stroke="#8a8a8a" stroke-width="1.80"/>
<line x1="80.30" y1="477.40" x2="219.00" y2="477.40" stroke="#555" stroke-width="1.40"/>
<line x1="265.40" y1="477.70" x2="403.60" y2="477.70" stroke="#555" stroke-width="1.40"/>
<line x1="487.30" y1="477.40" x2="617.00" y2="477.40" stroke="#555" stroke-width="1.40"/>
<text x="339.22" y="14.00" font-size="16.00" textLength="18.59" lengthAdjust="spacingAndGlyphs">(a)</text>
<text x="65.00" y="34.00" font-size="16.00" textLength="79.10" lengthAdjust="spacingAndGlyphs"><tspan font-style="italic">WEE2-AS1</tspan></text>
<text x="146.41" y="34.00" font-size="16.00" textLength="31.77" lengthAdjust="spacingAndGlyphs">gene</text>
<text x="181.51" y="34.00" font-size="16.00" textLength="72.49" lengthAdjust="spacingAndGlyphs">expression</text>
<text x="258.06" y="34.00" font-size="16.00" textLength="71.88" lengthAdjust="spacingAndGlyphs">depending</text>
<text x="332.95" y="34.00" font-size="16.00" textLength="17.73" lengthAdjust="spacingAndGlyphs">on</text>
<text x="354.09" y="34.00" font-size="16.00" textLength="63.32" lengthAdjust="spacingAndGlyphs">genotype</text>
<text x="420.96" y="34.00" font-size="16.00" textLength="20.00" lengthAdjust="spacingAndGlyphs">for</text>
<text x="444.45" y="34.00" font-size="16.00" textLength="67.31" lengthAdjust="spacingAndGlyphs">rs1726866</text>
<text x="516.18" y="34.00" font-size="16.00" textLength="13.80" lengthAdjust="spacingAndGlyphs">of</text>
<text x="532.62" y="34.00" font-size="16.00" textLength="31.56" lengthAdjust="spacingAndGlyphs">gene</text>
<text x="570.13" y="34.00" font-size="16.00" textLength="63.35" lengthAdjust="spacingAndGlyphs"><tspan font-style="italic">TAS2R38</tspan></text>
<text x="98.76" y="59.50" font-size="16.00" font-weight="bold" textLength="107.38" lengthAdjust="spacingAndGlyphs">Visceral adipose</text>
<text x="133.45" y="75.40" font-size="16.00" font-weight="bold" textLength="37.72" lengthAdjust="spacingAndGlyphs">tissue</text>
<text x="329.66" y="67.70" font-size="16.00" font-weight="bold" textLength="37.96" lengthAdjust="spacingAndGlyphs">Aorta</text>
<text x="493.96" y="68.00" font-size="16.00" font-weight="bold" textLength="98.87" lengthAdjust="spacingAndGlyphs">Femoral artery</text>
<text x="93.84" y="217.00" font-size="16.50" textLength="25.33" lengthAdjust="spacingAndGlyphs">CC</text>
<text x="140.52" y="217.00" font-size="16.50" textLength="21.94" lengthAdjust="spacingAndGlyphs">CT</text>
<text x="188.15" y="217.00" font-size="16.50" font-weight="bold" textLength="21.61" lengthAdjust="spacingAndGlyphs">TT</text>
<text x="91.12" y="236.80" font-size="16.50" textLength="28.56" lengthAdjust="spacingAndGlyphs">(87)</text>
<text x="134.27" y="236.80" font-size="16.50" textLength="34.76" lengthAdjust="spacingAndGlyphs">(181)</text>
<text x="180.96" y="236.80" font-size="16.50" textLength="35.18" lengthAdjust="spacingAndGlyphs">(120)</text>
<text x="290.09" y="216.70" font-size="16.50" textLength="23.92" lengthAdjust="spacingAndGlyphs">CC</text>
<text x="335.00" y="216.70" font-size="16.50" textLength="22.46" lengthAdjust="spacingAndGlyphs">CT</text>
<text x="382.67" y="216.70" font-size="16.50" font-weight="bold" textLength="20.07" lengthAdjust="spacingAndGlyphs">TT</text>
<text x="286.90" y="236.80" font-size="16.50" textLength="29.30" lengthAdjust="spacingAndGlyphs">(54)</text>
<text x="329.37" y="236.80" font-size="16.50" textLength="34.65" lengthAdjust="spacingAndGlyphs">(132)</text>
<text x="377.22" y="236.80" font-size="16.50" textLength="28.56" lengthAdjust="spacingAndGlyphs">(81)</text>
<text x="485.16" y="219.90" font-size="16.50" textLength="24.79" lengthAdjust="spacingAndGlyphs">CC</text>
<text x="531.77" y="219.90" font-size="16.50" textLength="23.31" lengthAdjust="spacingAndGlyphs">CT</text>
<text x="577.77" y="219.90" font-size="16.50" font-weight="bold" textLength="20.58" lengthAdjust="spacingAndGlyphs">TT</text>
<text x="482.00" y="240.10" font-size="16.50" textLength="29.30" lengthAdjust="spacingAndGlyphs">(76)</text>
<text x="525.25" y="240.10" font-size="16.50" textLength="35.80" lengthAdjust="spacingAndGlyphs">(140)</text>
<text x="573.49" y="240.10" font-size="16.50" textLength="29.83" lengthAdjust="spacingAndGlyphs">(97)</text>
<text x="26.30" y="173.92" font-size="16.50" textLength="80.87" lengthAdjust="spacingAndGlyphs" transform="rotate(-90 26.30 173.92)">Normalized</text>
<text x="42.30" y="168.66" font-size="16.50" textLength="71.59" lengthAdjust="spacingAndGlyphs" transform="rotate(-90 42.30 168.66)">expression</text>
<text x="229.22" y="267.10" font-size="16.00" textLength="19.47" lengthAdjust="spacingAndGlyphs">(b)</text>
<text x="102.78" y="284.60" font-size="16.00" textLength="87.98" lengthAdjust="spacingAndGlyphs"><tspan font-style="italic">ADAMDEC1</tspan></text>
<text x="192.38" y="284.60" font-size="16.00" textLength="33.02" lengthAdjust="spacingAndGlyphs">gene</text>
<text x="228.72" y="284.60" font-size="16.00" textLength="71.38" lengthAdjust="spacingAndGlyphs">expression</text>
<text x="304.06" y="284.60" font-size="16.00" textLength="71.47" lengthAdjust="spacingAndGlyphs">depending</text>
<text x="151.86" y="301.30" font-size="16.00" textLength="17.21" lengthAdjust="spacingAndGlyphs">on</text>
<text x="172.28" y="301.30" font-size="16.00" textLength="64.34" lengthAdjust="spacingAndGlyphs">genotype</text>
<text x="239.37" y="301.30" font-size="16.00" textLength="19.80" lengthAdjust="spacingAndGlyphs">for</text>
<text x="263.66" y="301.30" font-size="16.00" textLength="65.24" lengthAdjust="spacingAndGlyphs">rs3765124</text>
<text x="103.06" y="329.00" font-size="16.00" font-weight="bold" textLength="93.74" lengthAdjust="spacingAndGlyphs">Subcutaneous</text>
<text x="102.80" y="345.00" font-size="16.00" font-weight="bold" textLength="94.15" lengthAdjust="spacingAndGlyphs">adipose tissue</text>
<text x="293.26" y="337.70" font-size="16.00" font-weight="bold" textLength="82.32" lengthAdjust="spacingAndGlyphs">Whole blood</text>
<text x="93.08" y="496.80" font-size="16.50" font-weight="bold" textLength="20.70" lengthAdjust="spacingAndGlyphs">AA</text>
<text x="134.05" y="496.80" font-size="16.50" textLength="23.64" lengthAdjust="spacingAndGlyphs">AG</text>
<text x="174.18" y="496.80" font-size="16.50" textLength="26.07" lengthAdjust="spacingAndGlyphs">GG</text>
<text x="85.96" y="516.90" font-size="16.50" textLength="35.07" lengthAdjust="spacingAndGlyphs">(133)</text>
<text x="128.16" y="516.90" font-size="16.50" textLength="35.38" lengthAdjust="spacingAndGlyphs">(185)</text>
<text x="172.84" y="516.90" font-size="16.50" textLength="28.03" lengthAdjust="spacingAndGlyphs">(66)</text>
<text x="276.97" y="496.80" font-size="16.50" font-weight="bold" textLength="21.92" lengthAdjust="spacingAndGlyphs">AA</text>
<text x="321.54" y="496.80" font-size="16.50" textLength="24.98" lengthAdjust="spacingAndGlyphs">AG</text>
<text x="362.73" y="496.80" font-size="16.50" textLength="27.55" lengthAdjust="spacingAndGlyphs">GG</text>
<text x="270.26" y="516.90" font-size="16.50" textLength="35.18" lengthAdjust="spacingAndGlyphs">(132)</text>
<text x="316.96" y="516.90" font-size="16.50" textLength="35.07" lengthAdjust="spacingAndGlyphs">(172)</text>
<text x="362.32" y="516.90" font-size="16.50" textLength="28.56" lengthAdjust="spacingAndGlyphs">(62)</text>
<text x="13.80" y="445.81" font-size="16.50" textLength="79.45" lengthAdjust="spacingAndGlyphs" transform="rotate(-90 13.80 445.81)">Normalized</text>
<text x="30.60" y="439.95" font-size="16.50" textLength="70.88" lengthAdjust="spacingAndGlyphs" transform="rotate(-90 30.60 439.95)">expression</text>
<text x="539.17" y="267.00" font-size="16.00" textLength="19.68" lengthAdjust="spacingAndGlyphs">(c)</text>
<text x="459.55" y="284.60" font-size="16.00" textLength="68.85" lengthAdjust="spacingAndGlyphs"><tspan font-style="italic">KIAA1462</tspan></text>
<text x="531.21" y="284.60" font-size="16.00" textLength="107.63" lengthAdjust="spacingAndGlyphs">gene expression</text>
<text x="469.07" y="301.20" font-size="16.00" textLength="159.42" lengthAdjust="spacingAndGlyphs">depending on genotype</text>
<text x="503.30" y="318.50" font-size="16.00" textLength="90.52" lengthAdjust="spacingAndGlyphs">for rs3739998</text>
<text x="530.27" y="337.50" font-size="16.00" font-weight="bold" textLength="37.25" lengthAdjust="spacingAndGlyphs">Aorta</text>
<text x="495.96" y="496.60" font-size="16.50" textLength="24.68" lengthAdjust="spacingAndGlyphs">CC</text>
<text x="538.86" y="496.60" font-size="16.50" textLength="25.61" lengthAdjust="spacingAndGlyphs">CG</text>
<text x="578.86" y="496.60" font-size="16.50" textLength="26.60" lengthAdjust="spacingAndGlyphs">GG</text>
<text x="490.66" y="517.00" font-size="16.50" textLength="35.28" lengthAdjust="spacingAndGlyphs">(102)</text>
<text x="534.77" y="517.00" font-size="16.50" textLength="34.86" lengthAdjust="spacingAndGlyphs">(121)</text>
<text x="577.60" y="517.00" font-size="16.50" textLength="29.51" lengthAdjust="spacingAndGlyphs">(44)</text>
<text x="418.80" y="445.81" font-size="16.50" textLength="79.86" lengthAdjust="spacingAndGlyphs" transform="rotate(-90 418.80 445.81)">Normalized</text>
<text x="435.60" y="439.95" font-size="16.50" textLength="70.88" lengthAdjust="spacingAndGlyphs" transform="rotate(-90 435.60 439.95)">expression</text>
<text x="72.30" y="77.40" font-size="16.5" text-anchor="end">2</text>
<text x="72.30" y="106.90" font-size="16.5" text-anchor="end">1</text>
<text x="72.30" y="136.40" font-size="16.5" text-anchor="end">0</text>
<text x="72.30" y="165.90" font-size="16.5" text-anchor="end">1</text>
<text x="72.30" y="195.40" font-size="16.5" text-anchor="end">2</text>
<rect x="53.60" y="161.35" width="10.20" height="1.50" fill="#3a3a3a"/>
<rect x="53.60" y="190.95" width="10.20" height="1.50" fill="#3a3a3a"/>
<text x="68.10" y="361.90" font-size="16.5" text-anchor="end">1.5</text>
<text x="68.10" y="377.72" font-size="16.5" text-anchor="end">1.0</text>
<text x="68.10" y="393.54" font-size="16.5" text-anchor="end">0.5</text>
<text x="68.10" y="409.36" font-size="16.5" text-anchor="end">0</text>
<text x="68.10" y="425.18" font-size="16.5" text-anchor="end">0.5</text>
<text x="68.10" y="441.00" font-size="16.5" text-anchor="end">1.0</text>
<text x="68.10" y="456.82" font-size="16.5" text-anchor="end">1.5</text>
<rect x="36.90" y="420.53" width="9.90" height="1.50" fill="#3a3a3a"/>
<rect x="38.00" y="436.35" width="9.80" height="1.50" fill="#3a3a3a"/>
<rect x="37.80" y="452.17" width="9.80" height="1.50" fill="#3a3a3a"/>
<text x="472.70" y="359.10" font-size="16.5" text-anchor="end">1.0</text>
<text x="472.70" y="383.98" font-size="16.5" text-anchor="end">0.5</text>
<text x="472.70" y="408.86" font-size="16.5" text-anchor="end">0</text>
<text x="472.70" y="433.74" font-size="16.5" text-anchor="end">0.5</text>
<text x="472.70" y="458.62" font-size="16.5" text-anchor="end">1.0</text>
<rect x="441.90" y="429.19" width="10.00" height="1.50" fill="#3a3a3a"/>
<rect x="443.10" y="454.17" width="9.50" height="1.50" fill="#3a3a3a"/>
</svg>
</body></html>
